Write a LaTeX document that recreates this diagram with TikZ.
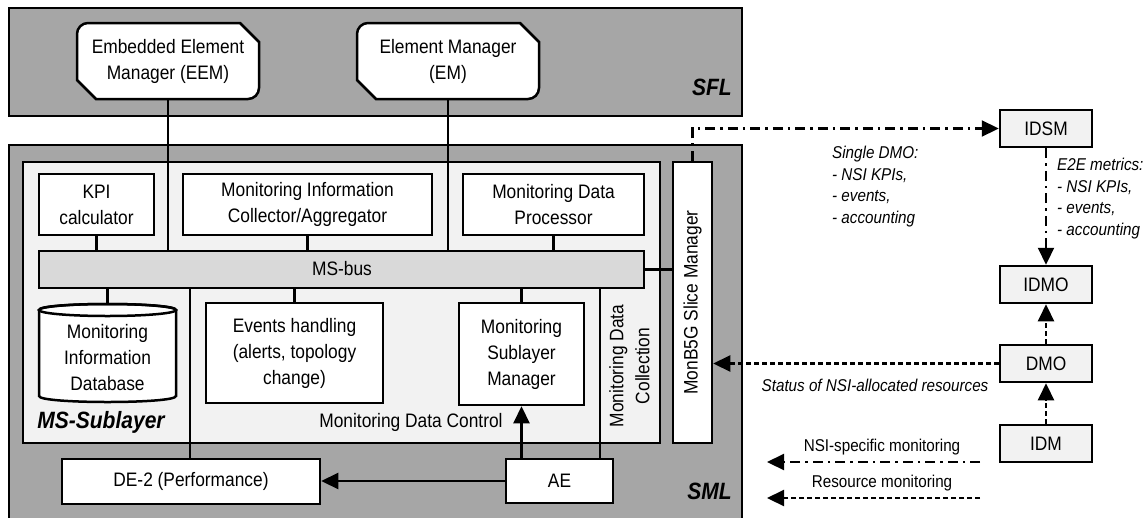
\documentclass[tikz,border=0pt]{standalone}
\usepackage{fontspec}
\setmainfont{Liberation Sans}[FakeStretch=0.89]
\usetikzlibrary{arrows.meta}

\definecolor{layergray}{HTML}{A6A6A6}
\definecolor{sublight}{HTML}{F2F2F2}
\definecolor{busgray}{HTML}{D9D9D9}

\newcommand\mainsize{\fontsize{19.5}{26}\selectfont}
\newcommand\notesize{\fontsize{17.1}{21.5}\selectfont}
\newcommand\layersize{\fontsize{23.6}{28}\selectfont\bfseries\itshape}

% rectangle node given by its corners: style, name, x1, y1, x2, y2, text
\newcommand\placebox[7]{%
  \node[#1, minimum width={#5-#3}, minimum height={#6-#4}] (#2)
    at ({(#3+#5)/2},{(#4+#6)/2}) {#7};}

% manager outline: rounded top-left/bottom-right, chamfered top-right/bottom-left
\newcommand\mgroutline[4]{%
  \filldraw[mgrframe] ({#1},{#2+11}) .. controls ({#1},{#2+5}) and ({#1+5},{#2}) .. ({#1+11},{#2})
    -- ({#3-19},{#2}) -- ({#3},{#2+19}) -- ({#3},{#4-11})
    .. controls ({#3},{#4-5}) and ({#3-5},{#4}) .. ({#3-11},{#4})
    -- ({#1+19},{#4}) -- ({#1},{#4-19}) -- cycle;}

\begin{document}
\begin{tikzpicture}[x=1pt,y=-1pt,
  layer/.style={draw, line width=2.6pt, fill=layergray},
  sublayer/.style={draw, line width=2.5pt, fill=sublight},
  blockbox/.style={rectangle, draw, line width=2.5pt, fill=white, inner sep=0pt,
    align=center, font=\mainsize},
  busbox/.style={blockbox, fill=busgray},
  extbox/.style={blockbox, fill=sublight},
  plain/.style={rectangle, inner sep=0pt, align=center, font=\mainsize},
  mgrframe/.style={draw, line width=2.5pt, fill=white},
  note/.style={rectangle, inner sep=0pt, align=left, font=\notesize\itshape},
  legendtext/.style={rectangle, inner sep=0pt, font=\notesize},
  layername/.style={rectangle, inner sep=0pt, font=\layersize},
  link/.style={line width=2.2pt},
  arr/.style={link, -{Triangle[length=17pt,width=16pt]}},
  dashdot/.style={dash pattern=on 10pt off 5pt on 2.5pt off 5pt},
  dashline/.style={dash pattern=on 5pt off 3pt}]

\useasboundingbox (0,0) rectangle (1143,517);

% layers
\draw[layer] (9,8) rectangle (742,116);
\draw[layer] (9,145) rectangle (742,530);
\draw[sublayer] (23,162) rectangle (660,443);

% SFL managers
\mgroutline{77}{23}{259}{99}
\mgroutline{357}{23}{539}{99}
\placebox{plain}{eem}{77}{23}{259}{99}{Embedded Element\\Manager (EEM)}
\placebox{plain}{em}{357}{23}{539}{99}{Element Manager\\(EM)}
\node[layername, anchor=east] (sfllbl) at (732,87.5) {SFL};

% MS-sublayer blocks
\placebox{blockbox}{kpi}{39}{174}{154}{235}{KPI\\calculator}
\placebox{blockbox}{mica}{183}{174}{432}{235}{Monitoring Information\\Collector/Aggregator}
\placebox{blockbox}{mdp}{463}{174}{644}{235}{Monitoring Data\\Processor}
\placebox{busbox}{bus}{39}{251}{644}{288}{}
\node[plain] (buslbl) at (342,269) {MS-bus};

% information database (cylinder)
\filldraw[mgrframe] (39,310) -- (39,396) .. controls (39,404) and (176,404) .. (176,396)
  -- (176,310) .. controls (176,302) and (39,302) .. cycle;
\draw[line width=2.5pt] (107.5,310) ellipse [x radius=68.5, y radius=6];
\placebox{plain}{db}{39}{304}{176}{402}{}
\node[plain] (dblbl) at (107.5,358) {Monitoring\\Information\\Database};

\placebox{blockbox}{events}{206}{303}{383}{403}{Events handling\\(alerts, topology\\change)}
\placebox{blockbox}{msm}{459}{303}{584}{405}{Monitoring\\Sublayer\\Manager}

\node[layername] (msslbl) at (101,422) {MS-Sublayer};
\node[plain] (mdctrl) at (411,422) {Monitoring Data Control};
\node[plain, rotate=90] (mdcoll) at (629.5,366) {Monitoring Data\\Collection};

% slice manager
\placebox{blockbox}{slice}{673}{162}{712}{443}{}
\node[plain, rotate=90] (slicelbl) at (slice.center) {MonB5G Slice Manager};

% execution blocks
\placebox{blockbox}{de2}{62}{459}{320}{504}{DE-2 (Performance)}
\placebox{blockbox}{ae}{506}{459}{613}{503}{AE}
\node[layername, anchor=east] (smllbl) at (732,491.5) {SML};

% external domain blocks
\placebox{extbox}{idsm}{1000}{110}{1092}{147}{IDSM}
\placebox{extbox}{idmo}{1000}{266}{1092}{303}{IDMO}
\placebox{extbox}{dmo}{1000}{345}{1092}{382}{DMO}
\placebox{extbox}{idm}{1000}{425}{1092}{462}{IDM}

% bus attachments
\draw[link] (eem.south) -- (eem.south |- bus.north);
\draw[link] (em.south) -- (em.south |- bus.north);
\draw[link] (kpi.south) -- (kpi.south |- bus.north);
\draw[link] (mica.south) -- (mica.south |- bus.north);
\draw[link] (mdp.south) -- (mdp.south |- bus.north);
\draw[link] (bus.south -| db.north) -- (db.north);
\draw[link] (bus.south -| events.north) -- (events.north);
\draw[link] (bus.south -| msm.north) -- (msm.north);
\draw[link] (bus.east) -- (bus.east -| slice.west);

% area separators
\coordinate (sepa) at (190,288);
\coordinate (sepb) at (600,288);
\draw[link] (sepa) -- (sepa |- de2.north);
\draw[link] (sepb) -- (sepb |- ae.north);

% actuation
\draw[arr] (ae.west) -- (ae.west -| de2.east);
\draw[arr] (ae.north -| msm.south) -- (msm.south);

% inter-domain flows
\draw[arr, dashdot] (slice.north) |- (idsm.west);
\draw[arr, dashdot] (idsm.south) -- (idmo.north);
\draw[arr, dashline] (dmo.north) -- (idmo.south);
\draw[arr, dashline] (idm.north) -- (dmo.south);
\draw[arr, dashline] (dmo.west) -- (dmo.west -| slice.east);

\node[note, anchor=west] (singledmo) at (832,186.5) {Single DMO:\\- NSI KPIs,\\- events,\\- accounting};
\node[note, anchor=west] (e2e) at (1057,198.5) {E2E metrics:\\- NSI KPIs,\\- events,\\- accounting};
\node[note] (status) at (875,385) {Status of NSI-allocated resources};

% legend
\coordinate (lgas) at (980,462);
\coordinate (lgae) at (767,462);
\coordinate (lgbs) at (980,498);
\coordinate (lgbe) at (767,498);
\draw[arr, dashdot] (lgas) -- (lgae);
\draw[arr, dashline] (lgbs) -- (lgbe);
\node[legendtext] (lgalbl) at (882,447) {NSI-specific monitoring};
\node[legendtext] (lgblbl) at (882,483) {Resource monitoring};

\end{tikzpicture}
\end{document}
